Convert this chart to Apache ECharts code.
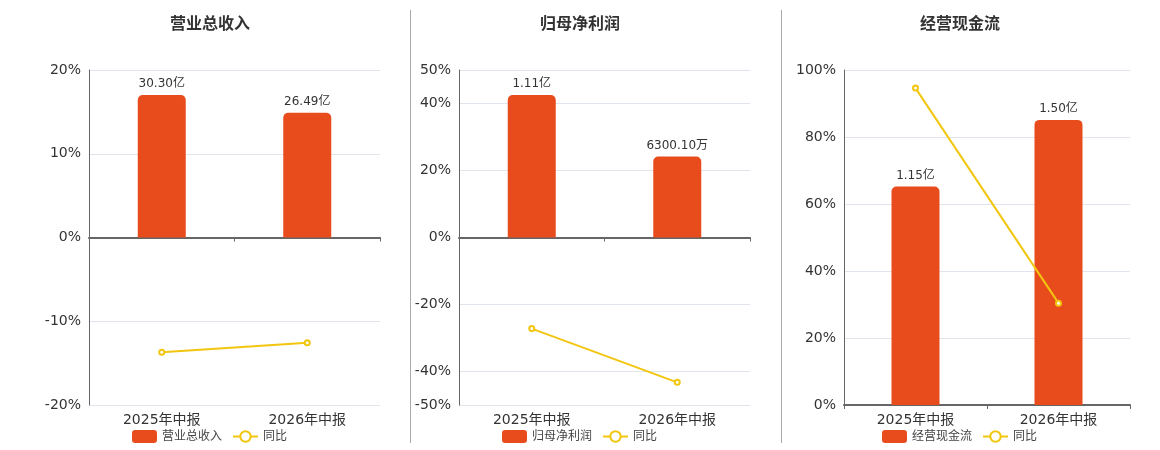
<!DOCTYPE html>
<html>
<head>
<meta charset="utf-8">
<script src="https://cdn.jsdelivr.net/npm/echarts@6/dist/echarts.min.js"></script>
<style>
  html, body { margin: 0; padding: 0; background: #fff; }
  #chart { width: 1160px; height: 450px; }
</style>
</head>
<body>
<div id="chart"></div>
<script>
// data
var periods = ['2025年中报', '2026年中报'];
var titles = ['营业总收入', '归母净利润', '经营现金流'];
// amounts in 亿
var revenue = [30.30, 26.49];
var netProfit = [1.11, 0.630010];
var cashFlow = [1.15, 1.50];
// 同比 (%)
var revenueYoy = [-13.7, -12.57];
var netProfitYoy = [-27.2, -43.24];
var cashFlowYoy = [94.6, 30.4];
// percent axis ticks
var ticks1 = [-20, -10, 0, 10, 20];
var ticks2 = [-50, -40, -20, 0, 20, 40, 50];
var ticks3 = [0, 20, 40, 60, 80, 100];

var amounts = [revenue, netProfit, cashFlow];
var yoys = [revenueYoy, netProfitYoy, cashFlowYoy];
var tickSets = [ticks1, ticks2, ticks3];

var barColor = '#E84B1C';
var lineColor = '#F2C60F';
var font = 'DejaVu Sans, Noto Sans CJK SC, sans-serif';

// layout of the three panels
var grids = [
    { left: 89, width: 291, top: 70, height: 335 },
    { left: 459, width: 291, top: 70, height: 335 },
    { left: 844, width: 286, top: 70, height: 335 }
];
var centers = [210, 580, 960];

function fmtAmount(v) {
    if (v < 1) return (v * 10000).toFixed(2) + '万';
    return v.toFixed(2) + '亿';
}

var dom = document.getElementById('chart');
var myChart = echarts.init(dom);

var option = {
    animation: false,
    textStyle: { fontFamily: font },
    title: [],
    legend: [],
    grid: grids,
    xAxis: [],
    yAxis: [],
    series: [],
    graphic: [
        { type: 'line', shape: { x1: 410.5, y1: 10, x2: 410.5, y2: 443 }, style: { stroke: '#aaa', lineWidth: 1 } },
        { type: 'line', shape: { x1: 781.5, y1: 10, x2: 781.5, y2: 443 }, style: { stroke: '#aaa', lineWidth: 1 } }
    ]
};

for (var i = 0; i < 3; i++) {
    var ticks = tickSets[i];
    var pMin = ticks[0], pMax = ticks[ticks.length - 1];
    var amtMax = Math.max.apply(null, amounts[i]) * 1.175;
    var symmetric = pMin < 0;

    option.title.push({
        text: titles[i],
        left: centers[i] - 5,
        top: 12,
        textAlign: 'center',
        textStyle: { fontSize: 16, fontWeight: 'bold', color: '#333', fontFamily: font }
    });

    option.legend.push({
        data: [titles[i], '同比'],
        left: centers[i] - 83,
        top: 425,
        itemWidth: 25,
        itemHeight: 13,
        itemGap: 10,
        textStyle: { fontSize: 12, color: '#444' }
    });

    // bottom axis with labels
    option.xAxis.push({
        type: 'category',
        gridIndex: i,
        data: periods,
        position: 'bottom',
        axisLine: { show: i === 2, onZero: false, lineStyle: { color: '#666', width: 2 } },
        axisTick: { show: i === 2, length: 4, lineStyle: { color: '#666' } },
        axisLabel: { fontSize: 14, color: '#333', margin: 8 }
    });
    // zero line axis
    option.xAxis.push({
        type: 'category',
        gridIndex: i,
        data: periods,
        position: 'bottom',
        axisLine: { show: i !== 2, onZero: true, onZeroAxisIndex: i * 2, lineStyle: { color: '#666', width: 2 } },
        axisTick: { show: i !== 2, length: 4, lineStyle: { color: '#666' } },
        axisLabel: { show: false }
    });

    // percent axis
    option.yAxis.push({
        type: 'value',
        gridIndex: i,
        min: pMin,
        max: pMax,
        axisLine: { show: true, lineStyle: { color: '#666' } },
        axisTick: { show: false, customValues: ticks },
        axisLabel: { fontSize: 14, color: '#333', customValues: ticks, formatter: '{value}%' },
        splitLine: { show: true, lineStyle: { color: '#e0e4ec' } }
    });
    // hidden amount axis
    option.yAxis.push({
        type: 'value',
        gridIndex: i,
        min: symmetric ? -amtMax : 0,
        max: amtMax,
        show: false,
        splitLine: { show: false }
    });

    option.series.push({
        name: titles[i],
        type: 'bar',
        xAxisIndex: i * 2,
        yAxisIndex: i * 2 + 1,
        data: amounts[i],
        barWidth: 48,
        itemStyle: { color: barColor, borderRadius: [5, 5, 0, 0] },
        label: {
            show: true,
            position: 'top',
            fontSize: 12,
            color: '#333',
            formatter: function (p) { return fmtAmount(p.value); }
        }
    });
    option.series.push({
        name: '同比',
        type: 'line',
        xAxisIndex: i * 2,
        yAxisIndex: i * 2,
        data: yoys[i],
        symbol: 'emptyCircle',
        symbolSize: 5,
        lineStyle: { color: lineColor, width: 2 },
        itemStyle: { color: lineColor }
    });
}

myChart.setOption(option);
</script>
</body>
</html>
